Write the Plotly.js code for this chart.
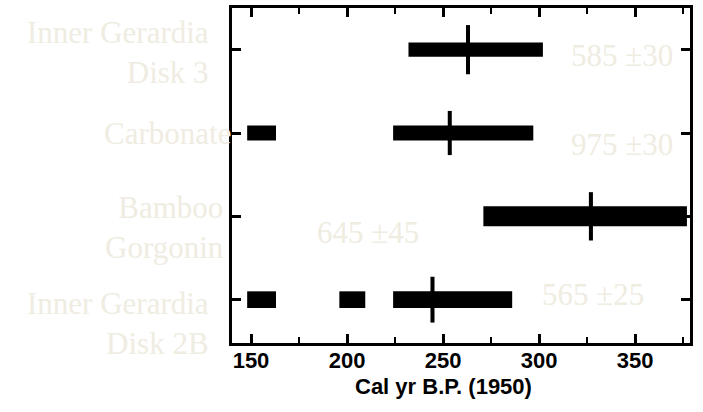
<!DOCTYPE html>
<html>
<head>
<meta charset="utf-8">
<script src="https://cdn.plot.ly/plotly-3.0.1.min.js"></script>
<style>html,body{margin:0;padding:0;background:#fff;}#chart{width:703px;height:412px;}</style>
</head>
<body>
<div id="chart"></div>
<script>
// ---- data ----
var categories = ["Inner Gerardia Disk 3", "Carbonate", "Bamboo Gorgonin", "Inner Gerardia Disk 2B"];
var categoryLabels = ["Inner Gerardia<br>Disk 3", "Carbonate", "Bamboo<br>Gorgonin", "Inner Gerardia<br>Disk 2B"];
var segRow   = [0, 1, 1, 2, 3, 3, 3];
var segStart = [232, 148, 224, 271, 148, 196, 224];
var segEnd   = [302, 163, 297, 377, 163, 209.5, 286];
var centers  = [263, 253.5, 327, 244.5];
var ageLabels = ["585 ±30", "975 ±30", "645 ±45", "565 ±25"];
var xTickVals = [150, 200, 250, 300, 350];
var xTitle = "Cal yr B.P. (1950)";

// ---- styles ----
var rowThickness = [0.17, 0.18, 0.24, 0.20];
var markHeight = [0.59, 0.53, 0.58, 0.55];
var markHalfWidth = 1.05;   // in x units (~4 px total)
var paleColor = "rgb(239,236,226)";
var serif = "Liberation Serif, Times New Roman, serif";
var sans = "Liberation Sans, Arial, sans-serif";

var barY = segRow.map(function(r){ return categories[r]; });
var barX = segEnd.map(function(e, i){ return e - segStart[i]; });
var barW = segRow.map(function(r){ return rowThickness[r]; });

var traces = [
  {
    type: "bar", orientation: "h",
    y: barY, x: barX, base: segStart, width: barW,
    marker: {color: "#000", line: {width: 0}},
    hoverinfo: "skip", showlegend: false
  },
  {
    type: "bar", orientation: "h",
    y: categories, x: centers.map(function(){ return 2 * markHalfWidth; }),
    base: centers.map(function(c){ return c - markHalfWidth; }),
    width: markHeight,
    marker: {color: "#000", line: {width: 0}},
    hoverinfo: "skip", showlegend: false
  }
];

// left labels (positions in paper coords) and age labels
var leftX = [-0.046, 0.002, -0.013, -0.046];
var leftShift = [-3, 0, -11, -24];
var ageX = [0.967, 0.967, 0.181, 0.672];
var ageAnchor = ["right", "right", "left", "left"];
var ageShift = [-6, -11, -16, 5];

var annotations = [];
categories.forEach(function(c, i){
  annotations.push({
    xref: "paper", yref: "y", x: leftX[i], y: c, xanchor: "right", yanchor: "middle",
    yshift: leftShift[i], text: categoryLabels[i], showarrow: false, align: "right",
    font: {family: serif, size: 31, color: paleColor}
  });
  annotations.push({
    xref: "paper", yref: "y", x: ageX[i], y: c, xanchor: ageAnchor[i], yanchor: "middle",
    yshift: ageShift[i], text: ageLabels[i], showarrow: false,
    font: {family: serif, size: 31, color: paleColor}
  });
});
annotations.push({
  xref: "paper", yref: "paper", x: 0.4607, y: -0.131, xanchor: "center", yanchor: "middle",
  text: "<b>" + xTitle + "</b>", showarrow: false,
  font: {family: sans, size: 22, color: "#000"}
});

var layout = {
  width: 703, height: 412,
  margin: {l: 232, r: 13, t: 7.5, b: 69.3, pad: 0},
  paper_bgcolor: "#fff", plot_bgcolor: "#fff",
  showlegend: false,
  barmode: "overlay",
  xaxis: {
    range: [140.1, 378.6], tickvals: xTickVals, ticktext: xTickVals.map(String),
    showgrid: false, zeroline: false,
    showline: true, linecolor: "#000", linewidth: 3, mirror: "allticks",
    ticks: "inside", ticklen: 9, tickwidth: 3, tickcolor: "#000",
    ticklabelstandoff: -4,
    minor: {dtick: 25, tick0: 150, ticks: "inside", ticklen: 6, tickwidth: 2.5, tickcolor: "#000", showgrid: false},
    tickfont: {family: sans, size: 22, color: "#000", weight: "bold"}
  },
  yaxis: {
    type: "category", categoryarray: categories, categoryorder: "array",
    range: [3.52, -0.5],
    showgrid: false, zeroline: false, showticklabels: false,
    showline: true, linecolor: "#000", linewidth: 3, mirror: "allticks",
    ticks: "inside", ticklen: 9, tickwidth: 3, tickcolor: "#000"
  },
  annotations: annotations
};

Plotly.newPlot("chart", traces, layout, {displayModeBar: false, staticPlot: true});
</script>
</body>
</html>
